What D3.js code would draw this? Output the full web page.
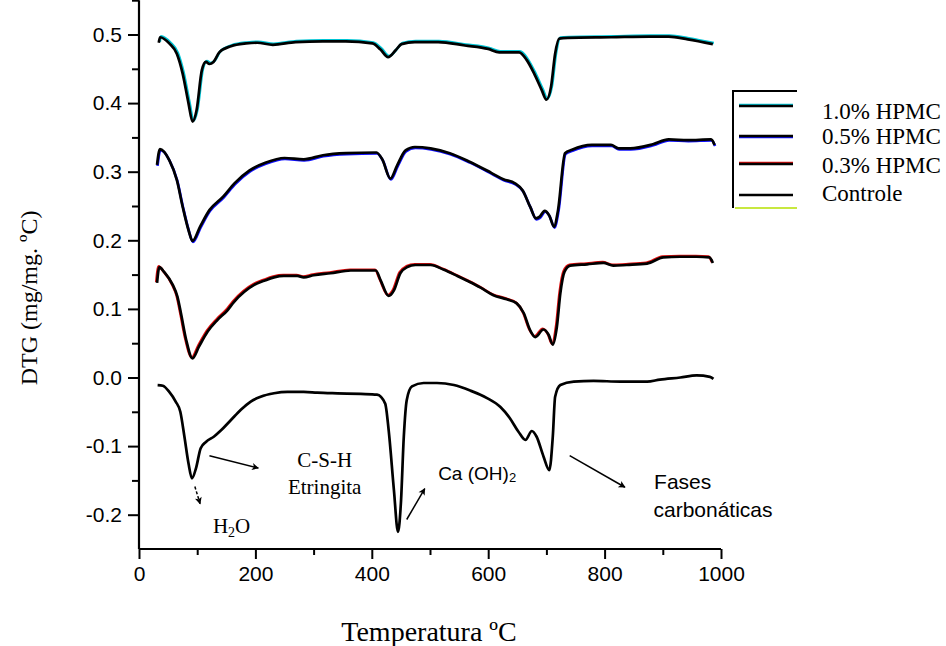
<!DOCTYPE html>
<html>
<head>
<meta charset="utf-8">
<script src="https://cdn.jsdelivr.net/npm/d3@7"></script>
<style>
  html, body { margin: 0; padding: 0; background: #fff; }
  svg { display: block; }
</style>
</head>
<body>
<svg id="chart" width="946" height="646"></svg>
<script>
// ---------- DATA ----------
const seriesNames = ["1.0% HPMC", "0.5% HPMC", "0.3% HPMC", "Controle"];
const seriesColors = ["#00c4d4", "#1010ff", "#e01010", "#000000"];

const hpmc10 = [[34,0.488],[36,0.496],[52,0.487],[65,0.472],[75,0.443],[85,0.40],[92,0.373],[99,0.39],[108,0.448],[115,0.46],[121,0.457],[128,0.46],[138,0.474],[158,0.483],[184,0.487],[203,0.488],[230,0.485],[269,0.489],[316,0.490],[355,0.490],[401,0.487],[415,0.478],[428,0.467],[441,0.477],[451,0.486],[474,0.489],[514,0.489],[560,0.484],[600,0.479],[619,0.474],[653,0.474],[666,0.463],[679,0.443],[692,0.419],[700,0.405],[708,0.424],[715,0.472],[722,0.494],[737,0.495],[811,0.496],[877,0.497],[910,0.497],[943,0.493],[986,0.486]];

const hpmc05 = [[31,0.310],[36,0.333],[52,0.317],[65,0.288],[75,0.249],[85,0.215],[92,0.199],[105,0.220],[121,0.244],[145,0.264],[164,0.283],[190,0.302],[217,0.313],[250,0.320],[283,0.318],[316,0.324],[356,0.327],[408,0.328],[418,0.318],[432,0.290],[444,0.31],[458,0.331],[474,0.336],[501,0.334],[534,0.327],[567,0.315],[606,0.298],[626,0.289],[646,0.283],[659,0.273],[672,0.249],[682,0.232],[688,0.234],[697,0.243],[705,0.236],[713,0.220],[720,0.244],[732,0.327],[744,0.332],[778,0.339],[811,0.339],[824,0.334],[844,0.334],[883,0.340],[910,0.347],[943,0.346],[983,0.347],[989,0.339]];

const hpmc03 = [[31,0.138],[35,0.161],[43,0.154],[58,0.135],[66,0.118],[72,0.094],[81,0.055],[92,0.028],[103,0.045],[118,0.067],[135,0.084],[152,0.098],[163,0.110],[181,0.125],[198,0.135],[215,0.141],[232,0.146],[249,0.148],[272,0.148],[283,0.146],[300,0.149],[329,0.152],[364,0.156],[407,0.156],[415,0.142],[429,0.119],[438,0.127],[449,0.152],[461,0.161],[475,0.164],[501,0.164],[524,0.157],[547,0.148],[564,0.141],[587,0.131],[609,0.120],[632,0.114],[649,0.108],[661,0.094],[672,0.069],[681,0.059],[695,0.070],[704,0.062],[711,0.048],[718,0.074],[724,0.123],[731,0.154],[741,0.163],[770,0.165],[798,0.167],[815,0.163],[838,0.164],[873,0.166],[901,0.175],[930,0.176],[958,0.176],[980,0.175],[986,0.167]];

const controle = [[32,-0.011],[41,-0.012],[52,-0.021],[63,-0.035],[71,-0.050],[78,-0.086],[85,-0.125],[91,-0.147],[98,-0.132],[106,-0.103],[115,-0.094],[129,-0.086],[141,-0.077],[158,-0.062],[175,-0.047],[192,-0.035],[209,-0.028],[232,-0.023],[255,-0.021],[283,-0.021],[306,-0.022],[341,-0.023],[381,-0.024],[409,-0.025],[423,-0.038],[429,-0.077],[438,-0.164],[445,-0.225],[450,-0.183],[455,-0.086],[460,-0.033],[469,-0.013],[489,-0.008],[512,-0.008],[541,-0.011],[569,-0.019],[598,-0.030],[621,-0.043],[637,-0.059],[652,-0.079],[664,-0.091],[675,-0.078],[683,-0.086],[695,-0.115],[705,-0.135],[711,-0.086],[715,-0.028],[724,-0.011],[747,-0.006],[781,-0.005],[827,-0.006],[873,-0.006],[895,-0.003],[930,0.000],[958,0.003],[981,0.001],[987,-0.002]];

const xTicks = [0, 200, 400, 600, 800, 1000];
const xMinorTicks = [100, 300, 500, 700, 900];
const yTicks = [0.5, 0.4, 0.3, 0.2, 0.1, 0.0, -0.1, -0.2];
const yMinorTicks = [0.55, 0.45, 0.35, 0.25, 0.15, 0.05, -0.05, -0.15];

// annotation arrows: [x1, y1, x2, y2, dashed]
const arrows = [
  [96, -0.159, 105, -0.184, true],
  [121, -0.114, 205, -0.132, false],
  [460, -0.207, 491, -0.162, false],
  [740, -0.114, 835, -0.160, false]
];

// ---------- LAYOUT ----------
const svg = d3.select("#chart");
const x = d3.scaleLinear().domain([0, 1000]).range([139, 721]);
const y = d3.scaleLinear().domain([-0.25, 0.55]).range([549, 0.2]);

const serif = "'Liberation Serif', 'Times New Roman', serif";
const sans = "'Liberation Sans', Arial, sans-serif";

// ---------- AXES ----------
const fmt = v => d3.format(".1f")(v).replace("\u2212", "-");

const yAxis = d3.axisLeft(y).tickValues(yTicks).tickFormat(fmt).tickSize(11).tickPadding(6);
const gy = svg.append("g").attr("transform", `translate(${x(0)},0)`).call(yAxis);
const yMinor = d3.axisLeft(y).tickValues(yMinorTicks).tickFormat("").tickSize(7);
const gym = svg.append("g").attr("transform", `translate(${x(0)},0)`).call(yMinor);

const xAxis = d3.axisBottom(x).tickValues(xTicks).tickFormat(d3.format("d")).tickSize(10).tickPadding(7);
const gx = svg.append("g").attr("transform", `translate(0,${y(-0.25)})`).call(xAxis);
const xMinor = d3.axisBottom(x).tickValues(xMinorTicks).tickFormat("").tickSize(6);
const gxm = svg.append("g").attr("transform", `translate(0,${y(-0.25)})`).call(xMinor);

[gy, gym, gx, gxm].forEach(g => {
  g.select(".domain").attr("stroke", "#000").attr("stroke-width", 2.2);
  g.selectAll(".tick line").attr("stroke", "#000").attr("stroke-width", 2);
  g.selectAll(".tick text").attr("fill", "#000").style("font-family", sans).style("font-size", "21px");
});
gym.select(".domain").remove();
gxm.select(".domain").remove();
gy.select(".domain").attr("d", `M0,${y(0.55)}V${y(-0.25)}`);
gx.select(".domain").attr("d", `M${x(0)},0H${x(1000)}`);

// axis titles
svg.append("text")
  .attr("transform", `translate(37,${y(0.116)}) rotate(-90)`)
  .attr("text-anchor", "middle")
  .style("font-family", serif).style("font-size", "24px")
  .text("DTG (mg/mg. ºC)");

svg.append("text")
  .attr("x", x(500) - 1).attr("y", 641)
  .attr("text-anchor", "middle")
  .style("font-family", serif).style("font-size", "28px")
  .text("Temperatura ºC");

// ---------- LINES ----------
const line = d3.line().x(d => x(d[0])).y(d => y(d[1])).curve(d3.curveMonotoneX);
const allSeries = [hpmc10, hpmc05, hpmc03, controle];
const offsets = [[1, -1], [0.5, 1], [-0.8, -0.8], [0, 0]];

allSeries.forEach((data, i) => {
  if (i < 3) {
    svg.append("path").datum(data)
      .attr("d", line).attr("fill", "none")
      .attr("stroke", seriesColors[i]).attr("stroke-width", 2.6)
      .attr("stroke-linejoin", "round")
      .attr("transform", `translate(${offsets[i][0]},${offsets[i][1]})`);
  }
  svg.append("path").datum(data)
    .attr("d", line).attr("fill", "none")
    .attr("stroke", "#000").attr("stroke-width", 2.7)
    .attr("stroke-linejoin", "round");
});

// ---------- ANNOTATIONS ----------
const defs = svg.append("defs");
defs.append("marker").attr("id", "ah")
  .attr("viewBox", "0 0 10 10").attr("refX", 9).attr("refY", 5)
  .attr("markerWidth", 10).attr("markerHeight", 7).attr("markerUnits", "userSpaceOnUse")
  .attr("orient", "auto")
  .append("path").attr("d", "M0,0L10,5L0,10L2.5,5Z").attr("fill", "#000");

svg.selectAll(".arrow").data(arrows).enter().append("line")
  .attr("x1", d => x(d[0])).attr("y1", d => y(d[1]))
  .attr("x2", d => x(d[2])).attr("y2", d => y(d[3]))
  .attr("stroke", "#000").attr("stroke-width", 1.5)
  .attr("stroke-dasharray", d => d[4] ? "3,2" : null)
  .attr("marker-end", "url(#ah)");

svg.append("text").attr("x", x(319)).attr("y", y(-0.130))
  .attr("text-anchor", "middle").style("font-family", serif).style("font-size", "21px")
  .text("C-S-H");
svg.append("text").attr("x", x(319)).attr("y", y(-0.170))
  .attr("text-anchor", "middle").style("font-family", serif).style("font-size", "21px")
  .text("Etringita");

const h2o = svg.append("text").attr("x", x(127)).attr("y", y(-0.227))
  .style("font-family", serif).style("font-size", "21px");
h2o.append("tspan").text("H");
h2o.append("tspan").attr("dy", 4).style("font-size", "14px").text("2");
h2o.append("tspan").attr("dy", -4).text("O");

const caoh = svg.append("text").attr("x", x(514)).attr("y", y(-0.149))
  .style("font-family", sans).style("font-size", "19px");
caoh.append("tspan").text("Ca (OH)");
caoh.append("tspan").attr("dy", 2).style("font-size", "13px").text("2");

svg.append("text").attr("x", x(885)).attr("y", y(-0.163))
  .style("font-family", sans).style("font-size", "21px").text("Fases");
svg.append("text").attr("x", x(884)).attr("y", y(-0.203))
  .style("font-family", sans).style("font-size", "21px").text("carbonáticas");

// ---------- LEGEND ----------
const lg = svg.append("g");
lg.append("path").attr("d", "M797,91H733V208").attr("fill", "none").attr("stroke", "#000").attr("stroke-width", 2);
lg.append("line").attr("x1", 735).attr("x2", 797).attr("y1", 208).attr("y2", 208)
  .attr("stroke", "#c8e840").attr("stroke-width", 2);
const legY = [106, 136, 164, 195];
const legTextY = [119, 144, 173, 201];
seriesNames.forEach((name, i) => {
  if (i < 3) {
    lg.append("line").attr("x1", 739).attr("x2", 793)
      .attr("y1", legY[i] + (i === 1 ? 1 : -1)).attr("y2", legY[i] + (i === 1 ? 1 : -1))
      .attr("stroke", seriesColors[i]).attr("stroke-width", 2.5);
  }
  lg.append("line").attr("x1", 739).attr("x2", 793)
    .attr("y1", legY[i]).attr("y2", legY[i])
    .attr("stroke", "#000").attr("stroke-width", 2.5);
  lg.append("text").attr("x", 822).attr("y", legTextY[i])
    .style("font-family", serif).style("font-size", "23px").text(name);
});
</script>
</body>
</html>
